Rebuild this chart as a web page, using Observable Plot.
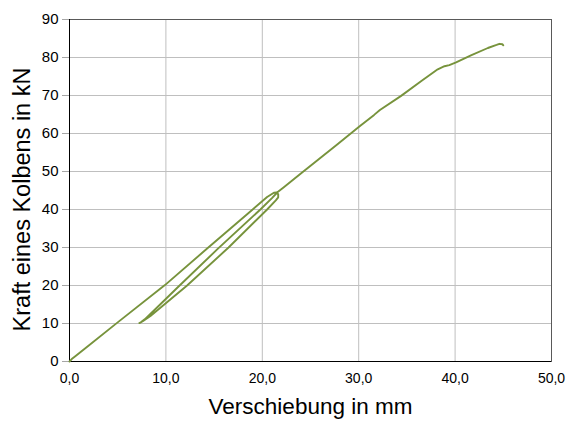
<!DOCTYPE html>
<html><head><meta charset="utf-8">
<script src="https://cdn.jsdelivr.net/npm/d3@7"></script>
<script src="https://cdn.jsdelivr.net/npm/@observablehq/plot@0.6"></script>
<style>body{margin:0;background:#fff;} svg{display:block}</style>
</head><body><div id="chart"></div>
<script>
// Verschiebung (mm) and Kraft (kN)
const displacement = [0, 0.3, 0.6, 2.0, 4.9, 9.9, 14.4, 19.0, 20.5, 21.2, 21.5, 21.65, 21.65, 21.4, 20.5, 16.5, 12.2, 10.3, 8.4, 7.6, 7.25, 7.4, 7.8, 9.4, 11.1, 15.4, 19.8, 21.0, 21.6, 22.2, 24.0, 27.8, 30.1, 31.6, 32.2, 34.4, 36.5, 38.2, 38.9, 39.4, 40.1, 41.7, 43.4, 44.3, 44.6, 44.9, 45.0];
const force = [0, 0.8, 1.4, 4.2, 10.1, 20.1, 30, 40, 43.3, 44.4, 44.5, 44.0, 43.2, 42.4, 40, 30, 20, 16.0, 12.0, 10.6, 10.1, 10.3, 11.1, 15.0, 19.2, 29.7, 40, 43.0, 44.6, 45.8, 49.5, 57.2, 61.9, 64.9, 66.2, 69.9, 73.8, 76.9, 77.7, 78.0, 78.7, 80.6, 82.5, 83.3, 83.6, 83.5, 83.2];
const xTicks = [0, 10, 20, 30, 40, 50];
const yTicks = [0, 10, 20, 30, 40, 50, 60, 70, 80, 90];
const xLabel = "Verschiebung in mm";
const yLabel = "Kraft eines Kolbens in kN";

const data = displacement.map((x, i) => ({x, y: force[i]}));
const fmt = d => d.toFixed(1).replace(".", ",");

const chart = Plot.plot({
  width: 566, height: 426,
  marginLeft: 69, marginRight: 15, marginTop: 19, marginBottom: 65,
  style: {fontFamily: "'Liberation Sans', Arial, sans-serif", fontSize: "14px", background: "white", overflow: "visible"},
  x: {domain: [0, 50], axis: null},
  y: {domain: [0, 90], axis: null},
  marks: [
    Plot.gridX(xTicks, {stroke: "#bfbfbf", strokeOpacity: 1}),
    Plot.gridY(yTicks, {stroke: "#bfbfbf", strokeOpacity: 1}),
    Plot.frame({stroke: "#595959"}),
    Plot.ruleX([0], {stroke: "black"}),
    Plot.ruleY([0], {stroke: "black"}),
    Plot.axisX(xTicks, {tickSize: 0, tickPadding: 12, tickFormat: fmt, label: null, fontSize: 14}),
    Plot.axisY(yTicks, {tickSize: 7, tickPadding: 4, label: null, stroke: "#a6a6a6", fill: "black", fontSize: 15}),
    Plot.line(data, {x: "x", y: "y", stroke: "#77933C", strokeWidth: 1.9, curve: "linear"}),
    Plot.text([xLabel], {frameAnchor: "bottom", dy: 52, fontSize: 22.5, fill: "black"}),
    Plot.text([yLabel], {frameAnchor: "left", textAnchor: "middle", rotate: -90, dx: -47, dy: 9, fontSize: 23.5, fill: "black"})
  ]
});
document.getElementById("chart").append(chart);
</script>
</body></html>
